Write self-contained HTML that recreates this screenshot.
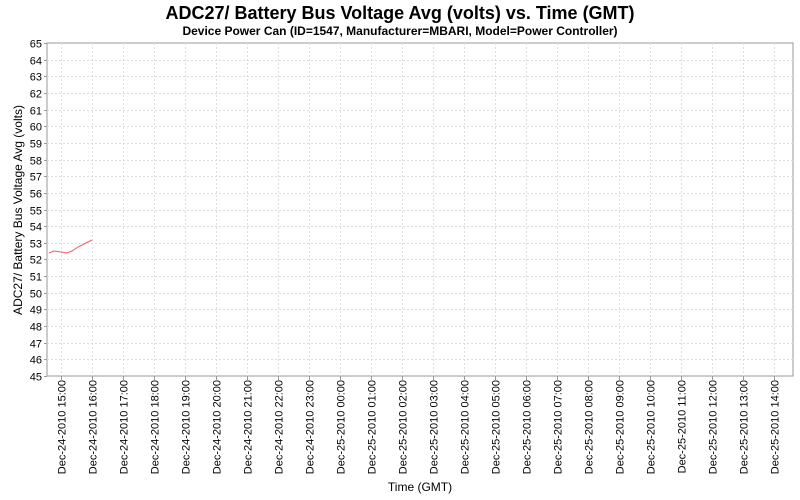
<!DOCTYPE html>
<html><head><style>body{margin:0;background:#fff}svg{display:block}</style></head><body>
<svg width="800" height="500" xmlns="http://www.w3.org/2000/svg" font-family="Liberation Sans, DejaVu Sans, sans-serif">
<text x="400" y="19" font-size="18" font-weight="bold" text-anchor="middle">ADC27/ Battery Bus Voltage Avg (volts) vs. Time (GMT)</text>
<text x="400" y="35" font-size="12" font-weight="bold" text-anchor="middle">Device Power Can (ID=1547, Manufacturer=MBARI, Model=Power Controller)</text>
<rect x="47" y="43" width="746" height="333" fill="#fff" stroke="#999"/>
<g id="grid" stroke="#ddd" stroke-dasharray="2,2" stroke-width="1"></g>
<g id="ylab" font-size="11" text-anchor="end"></g>
<g id="xlab" font-size="11"></g>
<text transform="translate(22,210) rotate(-90)" font-size="12" text-anchor="middle">ADC27/ Battery Bus Voltage Avg (volts)</text>
<text x="420" y="491" font-size="12" text-anchor="middle">Time (GMT)</text>
<polyline points="49,253 54,251 61,252 67,253 72,251 78,247 84,244 92,240" fill="none" stroke="#f06060" stroke-width="1"/>
<script>
var g=document.getElementById('grid'),yl=document.getElementById('ylab'),xl=document.getElementById('xlab'),ns='http://www.w3.org/2000/svg';
function el(p,t,a,txt){var e=document.createElementNS(ns,t);for(var k in a)e.setAttribute(k,a[k]);if(txt)e.textContent=txt;p.appendChild(e);return e;}
for(var v=45;v<=65;v++){var y=376-(v-45)*16.65;y=Math.round(y)+0.5;
 if(v>45&&v<65)el(g,'line',{x1:47,x2:793,y1:y,y2:y});
 el(g.parentNode,'line',{x1:44,x2:47,y1:y,y2:y,stroke:'#999'});
 el(yl,'text',{x:42,y:y+4},String(v));}
for(var i=0;i<24;i++){var x=61+i*31+0.5;
 el(g,'line',{x1:x,x2:x,y1:43,y2:376});
 el(g.parentNode,'line',{x1:x,x2:x,y1:376,y2:380,stroke:'#999'});
 var h=(15+i)%24,d=(15+i)<24?'24':'25';
 var lab='Dec-'+d+'-2010 '+(h<10?'0':'')+h+':00';
 el(xl,'text',{transform:'translate('+(x+4)+',380) rotate(-90)','text-anchor':'end'},lab);}
</script>
</svg>
</body></html>
